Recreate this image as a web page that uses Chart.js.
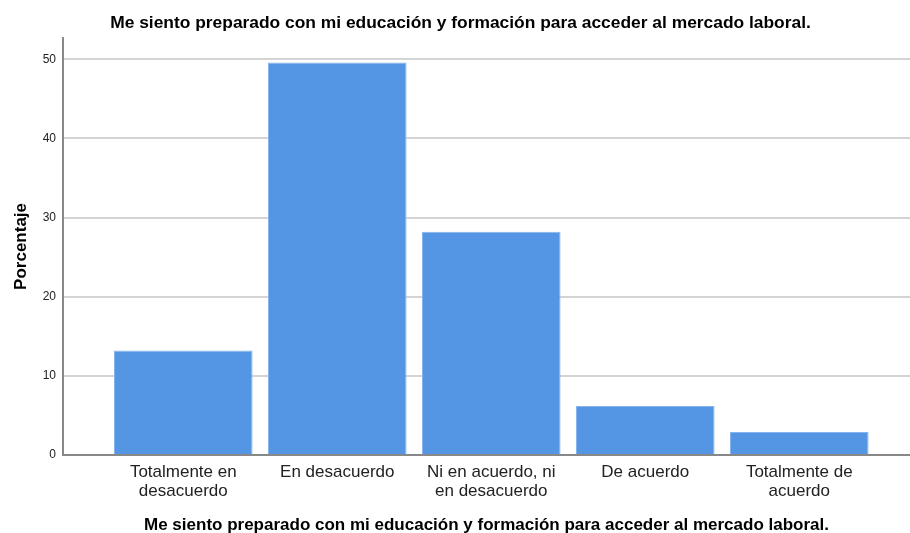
<!DOCTYPE html>
<html>
<head>
<meta charset="utf-8">
<script src="https://cdn.jsdelivr.net/npm/chart.js@4"></script>
<style>
  html, body { margin: 0; padding: 0; background: #fff; }
  #wrap { width: 910px; height: 533px; }
</style>
</head>
<body>
<div id="wrap"><canvas id="chart" width="910" height="533"></canvas></div>
<script>
const titleText = 'Me siento preparado con mi educación y formación para acceder al mercado laboral.';
const categories = [
  ['Totalmente en', 'desacuerdo'],
  ['En desacuerdo'],
  ['Ni en acuerdo, ni', 'en desacuerdo'],
  ['De acuerdo'],
  ['Totalmente de', 'acuerdo']
];
const percentages = [13.2, 49.6, 28.2, 6.2, 2.9];
const yTicks = [0, 10, 20, 30, 40, 50];

const FONT = '"Liberation Sans", Arial, sans-serif';

// bars sit on a linear x scale so the left gap after the axis can be wider than a category
const points = percentages.map((v, i) => ({ x: i + 1, y: v }));

new Chart(document.getElementById('chart'), {
  type: 'bar',
  data: {
    datasets: [{
      label: 'Porcentaje',
      data: points,
      backgroundColor: '#5596e4',
      borderColor: '#86b4ee',
      borderWidth: 1,
      barPercentage: 0.9,
      categoryPercentage: 1
    }]
  },
  options: {
    responsive: false,
    animation: false,
    layout: { padding: { left: 11, right: 0, top: 0, bottom: 0 } },
    plugins: {
      legend: { display: false },
      tooltip: { enabled: false },
      title: {
        display: true,
        text: titleText,
        color: '#000',
        font: { family: FONT, size: 17.4, weight: 'bold' },
        padding: { top: 13, bottom: 4 }
      }
    },
    scales: {
      x: {
        type: 'linear',
        position: 'bottom',
        offset: false,
        min: 0.219,
        max: 5.719,
        grid: { display: false },
        border: { display: true, color: '#888', width: 2 },
        ticks: {
          stepSize: 1,
          includeBounds: false,
          autoSkip: false,
          maxRotation: 0,
          padding: 0,
          color: '#222',
          font: { family: FONT, size: 17, lineHeight: 1.12 },
          callback: v => (Number.isInteger(v) && v >= 1 && v <= categories.length) ? categories[v - 1] : ''
        },
        title: {
          display: true,
          text: titleText,
          color: '#000',
          font: { family: FONT, size: 17, weight: 'bold' },
          padding: { top: 0, bottom: -3 }
        },
        afterFit: s => { s.height = 78; }
      },
      y: {
        min: 0,
        max: 52.7,
        grid: { color: '#d4d4d4', lineWidth: 2, drawTicks: false },
        border: { display: true, color: '#888', width: 2 },
        ticks: {
          stepSize: 10,
          includeBounds: false,
          padding: 7,
          color: '#222',
          font: { family: FONT, size: 12 },
          callback: v => yTicks.includes(v) ? v : ''
        },
        title: {
          display: true,
          text: 'Porcentaje',
          color: '#000',
          font: { family: FONT, size: 17, weight: 'bold' },
          padding: { top: 0, bottom: 0 }
        },
        afterFit: s => { s.width = 52; }
      }
    }
  }
});
</script>
</body>
</html>
